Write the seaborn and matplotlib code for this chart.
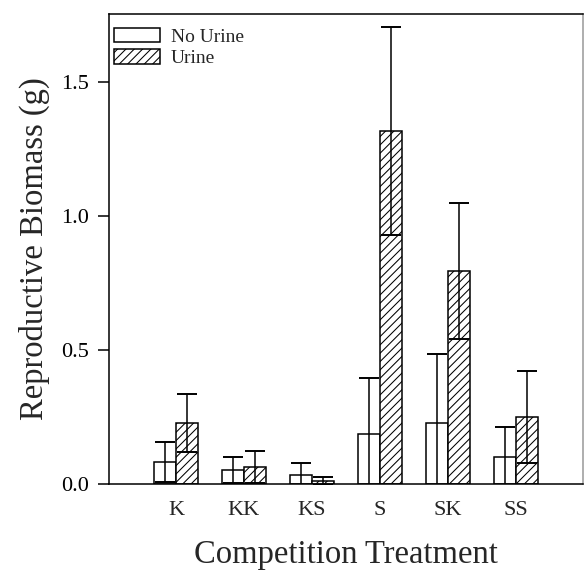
import matplotlib
matplotlib.use("Agg")
import matplotlib.pyplot as plt
import seaborn as sns
import pandas as pd
import numpy as np

treatments = ["K", "KK", "KS", "S", "SK", "SS"]
no_urine = [0.082, 0.052, 0.034, 0.187, 0.228, 0.101]
no_urine_err = [0.076, 0.048, 0.044, 0.208, 0.257, 0.112]
urine = [0.228, 0.063, 0.012, 1.317, 0.795, 0.250]
urine_err = [0.108, 0.060, 0.014, 0.387, 0.253, 0.171]
groups = ["No Urine", "Urine"]

df = pd.DataFrame({
    "treatment": treatments * 2,
    "group": [groups[0]] * len(treatments) + [groups[1]] * len(treatments),
    "value": no_urine + urine,
})
errs = {groups[0]: no_urine_err, groups[1]: urine_err}

sns.set_style("ticks")
plt.rcParams["font.family"] = ["Liberation Serif", "DejaVu Serif"]
plt.rcParams["hatch.linewidth"] = 0.75

fig = plt.figure(figsize=(5.84, 5.71), dpi=100)
ax = fig.add_axes([109 / 584, 87 / 571, 474 / 584, 470 / 571])

sns.barplot(data=df, x="treatment", y="value", hue="group", order=treatments,
            hue_order=groups, palette=["white", "white"], edgecolor="black",
            linewidth=1.1, width=0.66, errorbar=None, saturation=1, ax=ax)

for cont, g in zip(ax.containers, groups):
    xs, ys = [], []
    for bar in cont:
        if g == "Urine":
            bar.set_hatch("////")
            if hasattr(bar, "set_hatchcolor"):
                bar.set_hatchcolor("0.4")
        xs.append(bar.get_x() + bar.get_width() / 2)
        ys.append(bar.get_height())
    ax.errorbar(xs, ys, yerr=errs[g], fmt="none", ecolor="black",
                elinewidth=1.1, capsize=7.5, capthick=1.4, zorder=3)

ax.set_ylim(0, 1.754)
ax.set_xlim(-0.985, 5.985)
ax.set_yticks([0.0, 0.5, 1.0, 1.5])
ax.set_yticklabels(["0.0", "0.5", "1.0", "1.5"])
ax.tick_params(axis="y", direction="out", length=8, width=1.1, labelsize=16, pad=6.5, colors="black")
ax.tick_params(axis="x", length=0, labelsize=16, pad=12)
for s in ax.spines.values():
    s.set_linewidth(1.1)
    s.set_color("black")
ax.spines["right"].set_color("0.6")

ax.set_xlabel("Competition Treatment", fontsize=23.5, labelpad=14)
ax.set_ylabel("Reproductive Biomass (g)", fontsize=23.5, labelpad=8)

handles = [ax.containers[0][0], ax.containers[1][0]]
ax.legend(handles, groups, loc="upper left", bbox_to_anchor=(-7 / 474, 1.0 - 2 / 470),
          frameon=False, fontsize=14, handlelength=2.4, handleheight=0.75,
          handletextpad=0.55, labelspacing=0.2, borderaxespad=0.3, borderpad=0.3)

fig.savefig("out.png", dpi=100)
